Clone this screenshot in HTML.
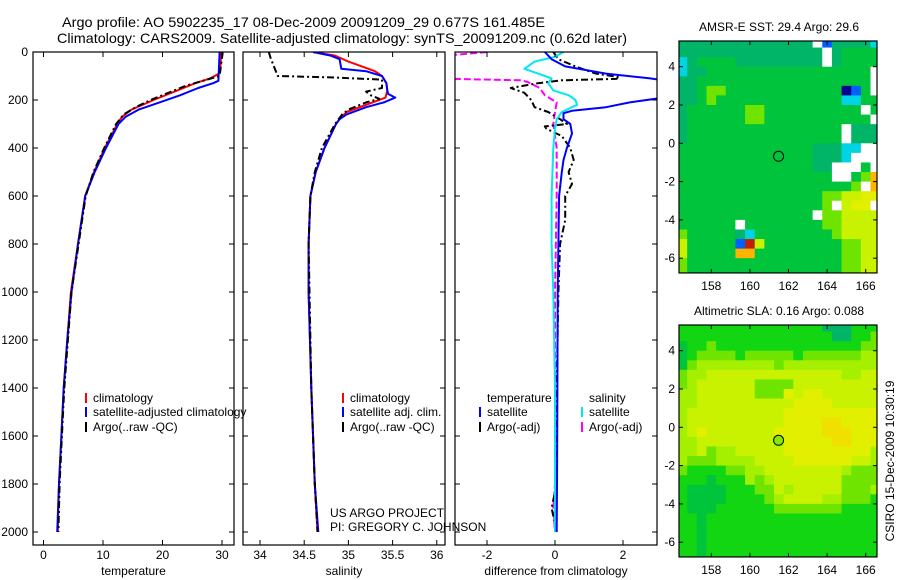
<!DOCTYPE html>
<html><head><meta charset="utf-8"><style>
html,body{margin:0;padding:0;background:#fff;}
svg{display:block;font-family:"Liberation Sans",sans-serif;}
</style></head><body>
<svg id="c" width="900" height="580" viewBox="0 0 900 580" xmlns="http://www.w3.org/2000/svg">
<text x="62" y="27" font-size="14" textLength="483" lengthAdjust="spacingAndGlyphs">Argo profile: AO 5902235_17 08-Dec-2009 20091209_29 0.677S 161.485E</text>
<text x="57" y="43" font-size="14" textLength="570" lengthAdjust="spacingAndGlyphs">Climatology: CARS2009. Satellite-adjusted climatology: synTS_20091209.nc (0.62d later)</text>
<text x="0" y="0" font-size="12" text-anchor="middle" transform="translate(894,461) rotate(-90)">CSIRO 15-Dec-2009 10:30:19</text>
<text x="330" y="517" font-size="12">US ARGO PROJECT</text>
<text x="330" y="531" font-size="12">PI: GREGORY C. JOHNSON</text>
</svg>
<script>
// ---- profile data ----
const tClimDepth=[0,50,90,110,130,160,200,240,270,300,400,500,600,800,1000,1200,1400,1600,1800,2000];
const tClimVal=[29.8,29.8,29.5,28,25.5,22.5,18.5,14.8,13.2,12.4,10.3,8.5,7.0,5.8,4.6,4.0,3.4,3.0,2.6,2.4];
const tSatDepth=[0,120,130,150,180,210,240,270,300,400,500,600,800,1000,1200,1400,1600,1800,2000];
const tSatVal=[29.6,29.4,28.5,26,23,19.5,16,13.8,12.6,10.5,8.6,7.0,5.8,4.7,4.0,3.4,3.0,2.6,2.3];
const tArgoDepth=[0,5,100,115,140,170,200,230,260,300,400,500,600,800,1000,1200,1400,1600,1800,2000];
const tArgoVal=[30,30.1,29.6,27.5,24,21,18,15.5,13.5,12.2,10.2,8.4,7.1,5.9,4.7,4.1,3.5,3.1,2.7,2.5];

const sClimDepth=[0,15,40,80,100,130,160,190,220,250,280,300,400,500,600,800,1000,1400,1800,2000];
const sClimVal=[34.6,34.85,35.0,35.3,35.38,35.43,35.44,35.42,35.2,34.98,34.9,34.86,34.73,34.63,34.57,34.55,34.55,34.58,34.62,34.65];
const sSatDepth=[0,15,30,70,80,100,130,160,175,190,210,230,260,280,300,400,500,600,800,1000,1400,1800,2000];
const sSatVal=[34.6,34.8,34.9,34.92,35.2,35.38,35.43,35.44,35.45,35.53,35.4,35.2,34.98,34.9,34.86,34.73,34.63,34.57,34.55,34.55,34.58,34.62,34.66];
const sArgoDepth=[0,25,100,106,115,150,165,180,195,210,240,260,300,400,500,600,800,1000,1400,1800,2000];
const sArgoVal=[34.1,34.12,34.2,34.8,35.38,35.38,35.2,35.25,35.35,35.2,35.0,34.93,34.85,34.7,34.62,34.57,34.55,34.56,34.58,34.62,34.65];

const dTSatDepth=[0,30,60,90,110,120,140,170,190,210,230,245,255,280,300,340,400,450,500,600,800,1000,1400,1800,2000];
const dTSatVal=[-0.3,-0.1,0.3,1.5,2.8,3.3,3.4,3.4,3.2,2.2,1.5,0.5,0.25,0.25,0.45,0.5,0.35,0.25,0.2,0.12,0.1,0.08,0.07,0.06,0.05];
const dTArgoDepth=[0,30,60,90,105,112,118,130,150,170,200,230,250,280,300,310,320,350,400,450,500,550,600,700,800,1000,1400,1800,1900,2000];
const dTArgoVal=[-0.05,0.1,0.6,1.2,1.9,1.8,0.2,-0.5,-1.3,-0.9,-0.7,-0.6,-0.2,0.15,0.35,-0.3,-0.25,0.2,0.45,0.55,0.4,0.5,0.3,0.3,0.15,0.1,0.05,0.05,-0.1,0.05];
const dSSatDepth=[0,20,40,70,90,110,130,160,180,200,220,250,280,320,400,600,800,1000,1400,1800,2000];
const dSSatVal=[0.25,0.0,-0.6,-0.9,-0.5,-0.1,-0.2,-0.05,0.4,0.6,0.65,0.2,0.05,0.0,-0.05,-0.1,-0.1,-0.05,0.0,0.0,0.0];
const dSArgoDepth=[0,10,18,105,112,118,125,150,180,210,250,300,400,600,1000,1400,1800,1900,2000];
const dSArgoVal=[-2.0,-2.8,-3.5,-3.5,-3.0,-1.0,-0.8,-0.45,-0.3,0.05,0.0,-0.05,0.05,0.05,0.0,0.0,0.0,-0.05,0.0];

const depthTicks=[0,200,400,600,800,1000,1200,1400,1600,1800,2000];
const tempTicks=[0,10,20,30];
const salTicks=[34,34.5,35,35.5,36];
const salTickLabels=["34","34.5","35","35.5","36"];
const diffTicks=[-2,0,2];

// ---- map data (0.5 deg cells, lon from 156.25, lat from 5.5 downward; 21 cells per row) ----
const mapLonTicks=[158,160,162,164,166];
const mapLatTicks=[4,2,0,-2,-4,-6];
const argoLon=161.485, argoLat=-0.677;
const sstRows=[
"t".repeat(14)+"wb"+"tttt"+"c",
"t".repeat(15)+"w"+"t"+"gggg",
"ct"+"gggg"+"t".repeat(9)+"w"+"t"+"gggg",
"ctt"+"g".repeat(17)+"w",
"tt"+"g".repeat(18)+"w",
"ttgll"+"g".repeat(12)+"nbgw",
"ttgl"+"g".repeat(13)+"ccgg",
"t"+"g".repeat(6)+"ll"+"g".repeat(10)+"wg",
"t"+"g".repeat(6)+"ll"+"g".repeat(11)+"w",
"t"+"g".repeat(16)+"wttt",
"t"+"g".repeat(16)+"wttt",
"g".repeat(14)+"tttccww",
"g".repeat(14)+"tttcwww",
"g".repeat(14)+"ttwwwgw",
"g".repeat(16)+"wwglo",
"g".repeat(18)+"lwo",
"g".repeat(15)+"llyyYY",
"g".repeat(15)+"lwyYYw",
"g".repeat(14)+"wllyyyy",
"g".repeat(6)+"w"+"g".repeat(8)+"llyyyy",
"lggggg"+"tc"+"g".repeat(8)+"lyyyy",
"yggggg"+"bry"+"g".repeat(8)+"llyy",
"yggggg"+"oog"+"g".repeat(8)+"llyy",
"l"+"g".repeat(16)+"llyy",
"l"+"g".repeat(16)+"llyy"];
const slaRows=[
"GGGGGGGGGGGGGGGtttGGG",
"GGGGGGGGGGGGGGGGttGGl",
"gGGlGGGGGGGGGGGGGGGll",
"gGllllGlllllGllllllmm",
"glmmmmmmmmlmmmmmmmmmm",
"lmmyyyyyyyyyyyyyymmyy",
"lmyyyyyyllllyyyyyyyyy",
"mmyyyyyylllYyYYyyyyyy",
"mmyyyyyyyyyyYYYYyyyyy",
"myyyyyyyyyyYYYYYYYYYY",
"myyyyyyyyyyYYYYAAYYYY",
"myYyyyyyyyYYYYYAAAYYY",
"mmyyyyyyyymYYYYYAAYYY",
"mmylmmyyyyyYYYYYYYYYm",
"mlllmmmmyyyyYYYYYYyym",
"lGGGGllmmyyyyyyyymlll",
"GGGgGGGmlmyyyyyyyllll",
"GggggGGGllymyyyyylllm",
"GggggGGGGlmyyyymmlllG",
"GgggGGGGGGlllllllGGGG",
"GGgGGGGGGGGGGGGGGGGGG",
"GGgGGGGGGGGGGGGGGGGGG",
"GGgGGGGGGGGGGGGGGGGGG",
"GGgGGGGGGGGGGGGGGGGGG",
"GGgGGGGGGGGGGGGGGGGGG"];
const palette={t:"#00b468",g:"#00c43c",G:"#12d612",l:"#6ee400",m:"#a4f000",y:"#c8f200",Y:"#e2f000",A:"#f0e000",
  o:"#ffb400",r:"#c02000",c:"#00d4e4",b:"#0060ff",n:"#000090",w:"#ffffff"};

const NS="http://www.w3.org/2000/svg";
const svg=document.getElementById('c');
function mk(tag,attrs,parent){const e=document.createElementNS(NS,tag);for(const k in attrs)e.setAttribute(k,attrs[k]);(parent||svg).appendChild(e);return e;}

const TOP=52,BOT=545;
function yD(d){return TOP+d*0.24;}
const panels=[
 {x0:33,x1:234,xs:v=>43.5+v*5.95,ticks:tempTicks,labels:tempTicks.map(String),title:"temperature",name:"temperature-panel",
  series:[[tClimDepth,tClimVal,"#ff0000",null,"temp-climatology-line"],[tSatDepth,tSatVal,"#0000ff",null,"temp-satellite-line"],[tArgoDepth,tArgoVal,"#000","7,3,2,3","temp-argo-line"]]},
 {x0:243,x1:445,xs:v=>260+(v-34)*88.4,ticks:salTicks,labels:salTickLabels,title:"salinity",name:"salinity-panel",
  series:[[sClimDepth,sClimVal,"#ff0000",null,"sal-climatology-line"],[sSatDepth,sSatVal,"#0000ff",null,"sal-satellite-line"],[sArgoDepth,sArgoVal,"#000","7,3,2,3","sal-argo-line"]]},
 {x0:455,x1:657,xs:v=>555+v*34,ticks:diffTicks,labels:diffTicks.map(String),title:"difference from climatology",name:"difference-panel",
  series:[[dSArgoDepth,dSArgoVal,"#ff00ff","7,3","diff-sal-argo-line"],[dTArgoDepth,dTArgoVal,"#000","7,3,2,3","diff-temp-argo-line"],[dSSatDepth,dSSatVal,"#00e8f0",null,"diff-sal-satellite-line"],[dTSatDepth,dTSatVal,"#0000ff",null,"diff-temp-satellite-line"]]}
];
panels.forEach((p,i)=>{
  const g=mk('g',{});
  
  
  const cp=mk('clipPath',{id:'cp'+i},g);
  mk('rect',{x:p.x0,y:TOP,width:p.x1-p.x0,height:BOT-TOP},cp);
  const lg=mk('g',{'clip-path':'url(#cp'+i+')'},g);
  p.series.forEach(s=>{
    const pts=s[0].map((d,k)=>p.xs(s[1][k]).toFixed(1)+","+yD(d).toFixed(1)).join(" ");
    const pl=mk('polyline',{points:pts,fill:'none',stroke:s[2],'stroke-width':2,'stroke-linejoin':'round'},lg);
    if(s[3])pl.setAttribute('stroke-dasharray',s[3]);
    
    
  });
  mk('rect',{x:p.x0,y:TOP,width:p.x1-p.x0,height:BOT-TOP,fill:'none',stroke:'#000','stroke-width':1.2},g);
  depthTicks.forEach(d=>{
    mk('line',{x1:p.x0,x2:p.x0+5,y1:yD(d),y2:yD(d),stroke:'#000'},g);
    mk('line',{x1:p.x1,x2:p.x1-5,y1:yD(d),y2:yD(d),stroke:'#000'},g);
    if(i===0){const t=mk('text',{x:28,y:yD(d)+4,'font-size':12,'text-anchor':'end'},g);t.textContent=String(d);
      
      }
  });
  p.ticks.forEach((v,k)=>{
    const x=p.xs(v);
    mk('line',{x1:x,x2:x,y1:BOT,y2:BOT-5,stroke:'#000'},g);
    mk('line',{x1:x,x2:x,y1:TOP,y2:TOP+5,stroke:'#000'},g);
    const t=mk('text',{x:x,y:559,'font-size':12,'text-anchor':'middle'},g);t.textContent=p.labels[k];
    
    
  });
  const tt=mk('text',{x:(p.x0+p.x1)/2,y:575,'font-size':12,'text-anchor':'middle'},g);tt.textContent=p.title;
  
  
});
// legends
function legend(x,y,color,label){
  const g=mk('g',{});
  
  
  mk('line',{x1:x,x2:x,y1:y-9,y2:y+1,stroke:color,'stroke-width':2},g);
  const t=mk('text',{x:x+7,y:y,'font-size':12},g);t.textContent=label;
}
legend(86,402,"#ff0000","climatology");
legend(86,416,"#0000ff","satellite-adjusted climatology");
legend(86,431,"#000","Argo(..raw -QC)");
legend(343,402,"#ff0000","climatology");
legend(343,416,"#0000ff","satellite adj. clim.");
legend(343,431,"#000","Argo(..raw -QC)");
const lt=mk('text',{x:487,y:402,'font-size':12});lt.textContent="temperature";


const ls=mk('text',{x:589,y:402,'font-size':12});ls.textContent="salinity";


legend(480,416,"#0000ff","satellite");
legend(480,431,"#000","Argo(-adj)");
legend(582,416,"#00e8f0","satellite");
legend(582,431,"#ff00ff","Argo(-adj)");
// maps
function drawMap(rows,top,title,titleY,name,labelY,circleFill){
  const g=mk('g',{});
  
  
  const x0=679,x1=877;
  const lonX=l=>711.3+(l-158)*19.3;
  const lat4=top+25.7;
  const latY=l=>lat4+(4-l)*19.15;
  const bottom=latY(-6.77);
  const cid='mc'+name;
  const cp=mk('clipPath',{id:cid},g);
  mk('rect',{x:x0,y:top,width:x1-x0,height:bottom-top},cp);
  const cg=mk('g',{'clip-path':'url(#'+cid+')'},g);
  rows.forEach((row,r)=>{
    const la=5.5-0.5*r;
    for(let c=0;c<row.length;c++){
      const lo=156.25+0.5*c;
      const rc=mk('rect',{x:lonX(lo).toFixed(2),y:latY(la).toFixed(2),width:(0.5*19.3+0.4).toFixed(2),height:(0.5*19.15+0.4).toFixed(2),fill:palette[row[c]]||"#00c43c"},cg);
      
      
    }
  });
  const circ=mk('circle',{cx:lonX(argoLon),cy:latY(argoLat),r:5,fill:circleFill,stroke:'#000','stroke-width':1},cg);
  
  
  mk('rect',{x:x0,y:top,width:x1-x0,height:bottom-top,fill:'none',stroke:'#000','stroke-width':1.2},g);
  mapLonTicks.forEach(l=>{
    const x=lonX(l);
    mk('line',{x1:x,x2:x,y1:top,y2:top+4,stroke:'#000'},g);
    mk('line',{x1:x,x2:x,y1:bottom,y2:bottom-4,stroke:'#000'},g);
    const t=mk('text',{x:x,y:labelY,'font-size':12,'text-anchor':'middle'},g);t.textContent=String(l);
    
    
  });
  mapLatTicks.forEach(l=>{
    const y=latY(l);
    mk('line',{x1:x0,x2:x0+4,y1:y,y2:y,stroke:'#000'},g);
    mk('line',{x1:x1,x2:x1-4,y1:y,y2:y,stroke:'#000'},g);
    const t=mk('text',{x:675,y:y+4,'font-size':12,'text-anchor':'end'},g);t.textContent=String(l);
    
    
  });
  const tt=mk('text',{x:779,y:titleY,'font-size':12,'text-anchor':'middle'},g);tt.textContent=title;
  
  
}
drawMap(sstRows,41,"AMSR-E SST: 29.4  Argo: 29.6",31,"sst-map",290,"none");
drawMap(slaRows,325,"Altimetric SLA: 0.16  Argo: 0.088",315,"sla-map",574,"#88e800");
</script>
</body></html>
